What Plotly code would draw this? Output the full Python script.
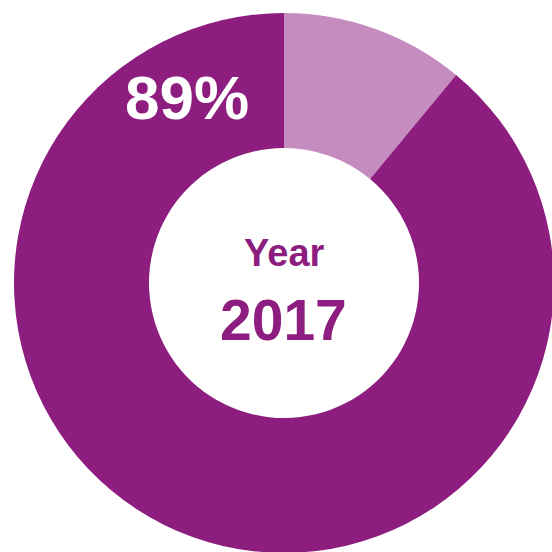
import plotly.graph_objects as go

# Data
labels = ["Other", "Share"]
values = [11, 89]
colors = ["#C58CC0", "#8D1E7F"]
pct_label = "89%"
center_top = "Year"
center_bottom = "2017"

W = H = 560
cx, cy, R = 284, 283, 270

def px(x):
    return x / W

def py(y):
    return 1 - y / H

fig = go.Figure(go.Pie(
    labels=labels,
    values=values,
    hole=0.5,
    sort=False,
    direction="clockwise",
    rotation=0,
    marker=dict(colors=colors, line=dict(width=0)),
    textinfo="none",
    hoverinfo="skip",
    showlegend=False,
    domain=dict(x=[px(cx - R), px(cx + R)], y=[py(cy + R), py(cy - R)]),
))

font_family = "Liberation Sans, Arial, sans-serif"
fig.add_annotation(x=px(187), y=py(97), xref="paper", yref="paper", text=pct_label,
                   showarrow=False, xanchor="center", yanchor="middle",
                   font=dict(family=font_family, size=62, color="white", weight="bold"))
fig.add_annotation(x=px(284), y=py(253), xref="paper", yref="paper", text=center_top,
                   showarrow=False, xanchor="center", yanchor="middle",
                   font=dict(family=font_family, size=38, color="#8D1E7F", weight="bold"))
fig.add_annotation(x=px(283), y=py(320), xref="paper", yref="paper", text=center_bottom,
                   showarrow=False, xanchor="center", yanchor="middle",
                   font=dict(family=font_family, size=57, color="#8D1E7F", weight="bold"))

fig.update_layout(width=W, height=H, margin=dict(l=0, r=0, t=0, b=0),
                  paper_bgcolor="white", plot_bgcolor="white")

fig.write_html("out.html", config={"displayModeBar": False},
               post_script="document.documentElement.style.overflow='hidden';document.body.style.overflow='hidden';document.body.style.margin='0';")
